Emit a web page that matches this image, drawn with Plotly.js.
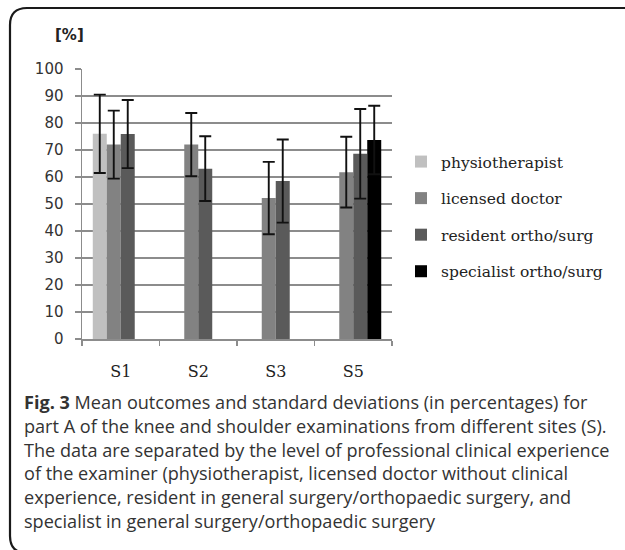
<!DOCTYPE html>
<html>
<head>
<meta charset="utf-8">
<script src="https://cdn.plot.ly/plotly-3.0.1.min.js"></script>
<style>
  html, body { margin: 0; padding: 0; background: #ffffff; }
  #chart { width: 625px; height: 550px; }
</style>
</head>
<body>
<div id="chart"></div>
<script>
// ---- data ----
var categories = ['S1', 'S2', 'S3', 'S5'];
var seriesNames = ['physiotherapist', 'licensed doctor', 'resident ortho/surg', 'specialist ortho/surg'];
var physioMean = [76.0, null, null, null];
var physioSD = [14.5, null, null, null];
var licensedMean = [72.0, 72.0, 52.2, 61.8];
var licensedSD = [12.6, 11.7, 13.4, 13.1];
var residentMean = [75.9, 63.1, 58.5, 68.6];
var residentSD = [12.6, 12.0, 15.4, 16.6];
var specialistMean = [null, null, null, 73.7];
var specialistSD = [null, null, null, 12.7];
var yTickVals = [0, 10, 20, 30, 40, 50, 60, 70, 80, 90, 100];
var captionLines = [
  '<b>Fig. 3</b> Mean outcomes and standard deviations (in percentages) for',
  'part A of the knee and shoulder examinations from different sites (S).',
  'The data are separated by the level of professional clinical experience',
  'of the examiner (physiotherapist, licensed doctor without clinical',
  'experience, resident in general surgery/orthopaedic surgery, and',
  'specialist in general surgery/orthopaedic surgery'
];

// ---- layout geometry ----
var W = 625, H = 550;
var M = {l: 82, r: 233, t: 69, b: 211};
var plotW = W - M.l - M.r, plotH = H - M.t - M.b;
function px(x) { return (x - M.l) / plotW; }
function py(y) { return (H - M.b - y) / plotH; }

var colors = ['#c0c0c0', '#828282', '#5a5a5a', '#000000'];
var means = [physioMean, licensedMean, residentMean, specialistMean];
var sds = [physioSD, licensedSD, residentSD, specialistSD];

var traces = means.map(function (m, i) {
  return {
    type: 'bar',
    name: seriesNames[i],
    legendgroup: 'g' + i,
    x: categories,
    y: m,
    marker: {color: colors[i], line: {width: 0}},
    error_y: {type: 'data', array: sds[i], visible: true, color: '#111111', thickness: 1.9, width: 6},
    hoverinfo: 'x+y'
  };
});

var annotations = [{
  text: '<b>[%]</b>', xref: 'paper', yref: 'paper', x: px(53), y: py(35),
  xanchor: 'left', yanchor: 'middle', showarrow: false,
  font: {family: 'DejaVu Sans', size: 15, color: '#222222'}
}];
captionLines.forEach(function (t, k) {
  annotations.push({
    text: t, xref: 'paper', yref: 'paper', x: px(22), y: py(402 + 23.8 * k),
    xanchor: 'left', yanchor: 'middle', showarrow: false,
    font: {family: 'Open Sans', size: 18.1, color: '#333333'}
  });
});

var layout = {
  width: W, height: H,
  margin: M,
  paper_bgcolor: '#ffffff',
  plot_bgcolor: '#ffffff',
  barmode: 'group',
  bargap: 0.278,
  bargroupgap: 0,
  showlegend: true,
  legend: {
    x: px(401), y: py(145), xanchor: 'left', yanchor: 'top',
    font: {family: 'DejaVu Serif', size: 15.5, color: '#222222'},
    traceorder: 'grouped', tracegroupgap: 13.4,
    bgcolor: 'rgba(0,0,0,0)'
  },
  xaxis: {
    type: 'category',
    showline: true, linecolor: '#8c8c8c', linewidth: 1.5,
    ticks: 'outside', tickson: 'boundaries', ticklen: 5, tickcolor: '#8c8c8c', tickwidth: 1.5,
    showgrid: false, zeroline: false,
    ticklabelstandoff: 17,
    tickfont: {family: 'DejaVu Serif', size: 16, color: '#222222'}
  },
  yaxis: {
    range: [0, 100], tickvals: yTickVals,
    showline: true, linecolor: '#8c8c8c', linewidth: 1.5,
    ticks: 'outside', ticklen: 6, tickcolor: '#8c8c8c', tickwidth: 1.5,
    showgrid: true, gridcolor: '#8c8c8c', gridwidth: 1.5, zeroline: false,
    ticklabelstandoff: 8,
    tickfont: {family: 'DejaVu Sans', size: 15, color: '#333333'}
  },
  annotations: annotations,
  shapes: [{
    type: 'path', xref: 'paper', yref: 'paper', layer: 'above',
    path: 'M' + px(27) + ',' + py(553) + ' Q' + px(10) + ',' + py(553) + ' ' + px(10) + ',' + py(536) +
          ' L' + px(10) + ',' + py(25) + ' Q' + px(10) + ',' + py(8) + ' ' + px(27) + ',' + py(8) +
          ' L' + px(640) + ',' + py(8),
    line: {color: '#1a1a1a', width: 2.2}
  }]
};

Plotly.newPlot('chart', traces, layout, {staticPlot: true, displayModeBar: false});
</script>
</body>
</html>
